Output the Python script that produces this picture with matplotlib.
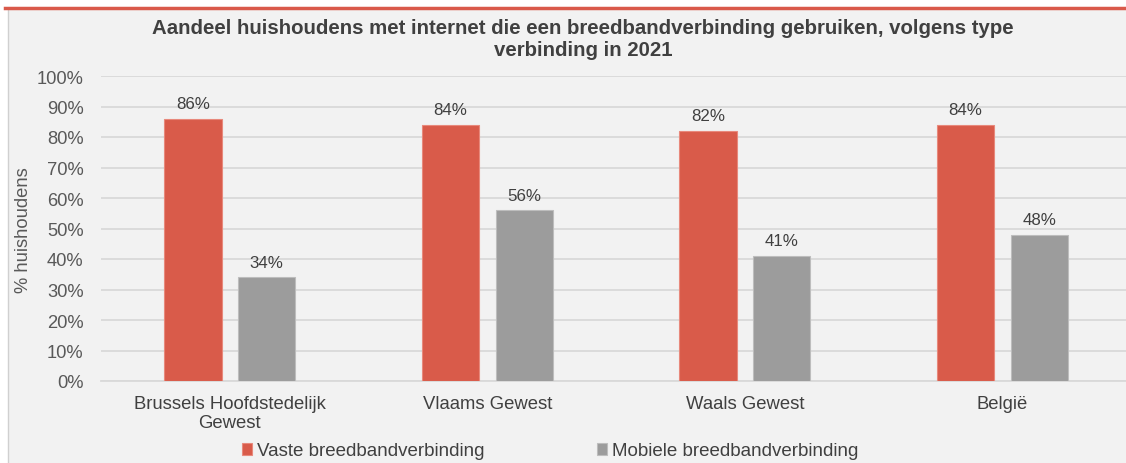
import matplotlib
matplotlib.use("Agg")
import matplotlib.pyplot as plt
import numpy as np
from matplotlib.patches import Rectangle
from matplotlib.lines import Line2D

plt.rcParams['font.family'] = ['Liberation Sans', 'DejaVu Sans']

categories = ["Brussels Hoofdstedelijk\nGewest", "Vlaams Gewest", "Waals Gewest", "België"]
vaste = [86, 84, 82, 84]
mobiele = [34, 56, 41, 48]
series_names = ["Vaste breedbandverbinding", "Mobiele breedbandverbinding"]
title = "Aandeel huishoudens met internet die een breedbandverbinding gebruiken, volgens type\nverbinding in 2021"
ylabel = "% huishoudens"

W, H = 1126, 464
fig = plt.figure(figsize=(W/100, H/100), dpi=100)
fig.patch.set_facecolor("white")

# background panel
fig.patches.append(Rectangle((8/W, 0), 1 - 8/W, 1 - 10/H, transform=fig.transFigure,
                             facecolor="#f2f2f2", edgecolor="none", zorder=-5))
fig.lines.append(Line2D([8/W, 8/W], [0, 1 - 10/H], transform=fig.transFigure,
                        color="#d0d0d0", lw=1, zorder=-4))
fig.lines.append(Line2D([5/W, 1], [1 - 8.5/H, 1 - 8.5/H], transform=fig.transFigure,
                        color="#d9594a", lw=2.5, zorder=-4))

left, right = 101, 1126
bottom, top = 382, 77
ax = fig.add_axes([left/W, 1 - bottom/H, (right-left)/W, (bottom-top)/H])
ax.set_facecolor("none")
ax.set_zorder(2)

x = np.arange(len(categories))
bw = 0.222
off = 0.143
red = "#d95b4a"
gray = "#9c9c9c"
b1 = ax.bar(x - off, vaste, bw, color=red, edgecolor="#e8897c", linewidth=0.8, zorder=3)
b2 = ax.bar(x + off, mobiele, bw, color=gray, edgecolor="#bdbdbd", linewidth=0.8, zorder=3)

for xi, v in zip(x - off, vaste):
    ax.annotate(f"{v}%", (xi, v), xytext=(0, 5.5), textcoords="offset points",
                ha="center", va="bottom", fontsize=12.2, color="#404040")
for xi, v in zip(x + off, mobiele):
    ax.annotate(f"{v}%", (xi, v), xytext=(0, 5.5), textcoords="offset points",
                ha="center", va="bottom", fontsize=12.2, color="#404040")

ax.set_xlim(-0.5, (right - 230) / 257.5)
ax.set_ylim(0, 100)
ax.set_yticks(range(0, 101, 10))
ax.set_yticklabels([f"{t}%" for t in range(0, 101, 10)], fontsize=13.2, color="#595959")
ax.set_xticks(x)
ax.set_xticklabels(categories, fontsize=13.3, color="#404040", linespacing=1.2)
ax.tick_params(axis="both", length=0)
ax.tick_params(axis="y", pad=12.5)
ax.tick_params(axis="x", pad=10)
ax.yaxis.grid(True, color="#d9d9d9", lw=1.3, zorder=0)
ax.set_axisbelow(True)
for s in ["top", "right", "left"]:
    ax.spines[s].set_visible(False)
ax.spines["bottom"].set_color("#d9d9d9")
ax.spines["bottom"].set_linewidth(1.3)

fig.text(24/W, 1 - 230/H, ylabel, rotation=90, ha="center", va="center",
         fontsize=13.2, color="#595959")

fig.text(583/W, 1 - 39.5/H, title, ha="center", va="center", fontsize=14.7,
         fontweight="bold", color="#404040", linespacing=1.22)

leg = fig.legend([b1, b2], series_names, loc="center", bbox_to_anchor=(550/W, 1 - 452/H),
                 ncol=2, frameon=False, fontsize=13.5, handlelength=0.55, handleheight=0.55,
                 handletextpad=0.25, columnspacing=6.0, labelcolor="#404040")

fig.savefig("out.png", dpi=100, facecolor=fig.get_facecolor())
